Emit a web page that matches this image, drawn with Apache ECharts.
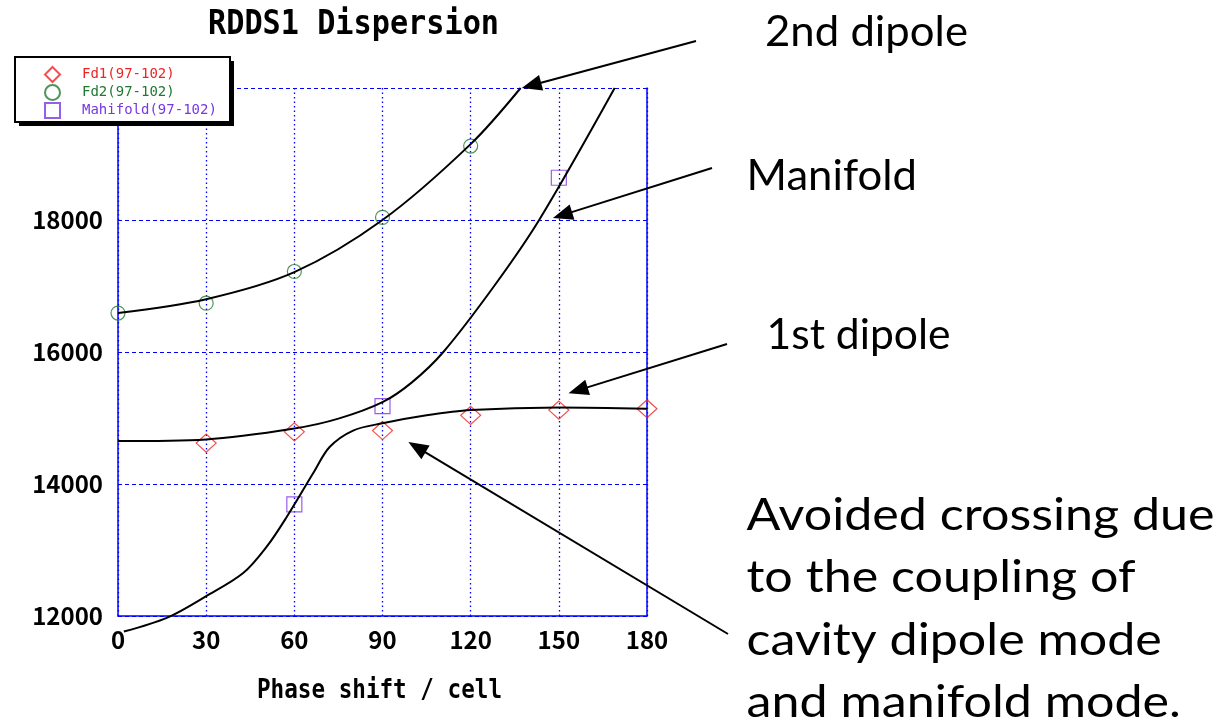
<!DOCTYPE html>
<html>
<head>
<meta charset="utf-8">
<script src="https://cdn.jsdelivr.net/npm/echarts@6/dist/echarts.min.js"></script>
<style>
  html, body { margin: 0; padding: 0; background: #ffffff; }
  #chart { width: 1224px; height: 728px; }
</style>
</head>
<body>
<div id="chart"></div>
<script>
// ---- Measured points: frequency vs. phase shift per cell ----
const fd1Phase = [30, 60, 90, 120, 150, 180];
const fd1Freq  = [14620, 14790, 14810, 15040, 15120, 15140];

const fd2Phase = [0, 30, 60, 90, 120];
const fd2Freq  = [16590, 16740, 17220, 18040, 19120];

const manifoldPhase = [60, 90, 150];
const manifoldFreq  = [13690, 15180, 18640];

// ---- Fitted dispersion curves ----
const dipole2CurvePhase = [0, 30, 60, 90, 120, 137];
const dipole2CurveFreq  = [16590, 16800, 17210, 18000, 19150, 20000];

const manifoldCurvePhase = [0, 30, 60, 75, 90, 100, 110.7, 128, 143.3, 169];
const manifoldCurveFreq  = [14650, 14675, 14840, 14990, 15240, 15540, 16000, 17000, 18000, 20000];

const dipole1CurvePhase = [2, 17, 30, 42.6, 50.6, 57.4, 66.5, 72, 80, 90, 105, 120, 150, 180];
const dipole1CurveFreq  = [11765, 11980, 12300, 12650, 13050, 13500, 14170, 14560, 14810, 14920, 15040, 15120, 15160, 15140];

// ---- Axis settings ----
const phaseTicks = [0, 30, 60, 90, 120, 150, 180];
const freqTicks  = [12000, 14000, 16000, 18000, 20000];

const seriesNames = ['Fd1(97-102)', 'Fd2(97-102)', 'Mahifold(97-102)'];

function pairs(xs, ys) { return xs.map((x, i) => [x, ys[i]]); }

const RED = '#ee2424';
const GREEN = '#1f7a32';
const PURPLE = '#7a36e6';
const BLUE = '#0000ff';

const tickFont = "'Noto Sans CJK JP', 'DejaVu Sans Condensed', sans-serif";
const monoFont = "'DejaVu Sans Mono', 'Liberation Mono', monospace";
const noteFont = "Lato, 'Open Sans', sans-serif";

const chart = echarts.init(document.getElementById('chart'), null, { renderer: 'canvas' });

const curveStyle = { color: '#000', width: 2 };
const curveSmooth = 0.33;

chart.setOption({
  animation: false,
  backgroundColor: '#ffffff',
  grid: { left: 118, right: 577, top: 88, bottom: 112, containLabel: false },
  legend: {
    orient: 'vertical',
    left: 15,
    top: 57,
    z: 6,
    padding: [9, 13, 8, 29],
    itemWidth: 15,
    itemHeight: 15,
    itemGap: 1,
    backgroundColor: 'transparent',
    borderWidth: 0,
    selectedMode: false,
    textStyle: { fontFamily: monoFont, fontSize: 14, padding: [0, 0, 0, 17] },
    data: [
      { name: seriesNames[0], textStyle: { color: RED } },
      { name: seriesNames[1], textStyle: { color: GREEN } },
      { name: seriesNames[2], textStyle: { color: PURPLE } }
    ]
  },
  xAxis: {
    type: 'value',
    min: phaseTicks[0],
    max: phaseTicks[phaseTicks.length - 1],
    interval: phaseTicks[1] - phaseTicks[0],
    axisLine: { show: true, lineStyle: { color: BLUE, width: 1.5 } },
    axisTick: { show: false },
    axisLabel: {
      color: '#000', fontFamily: tickFont, fontWeight: 'bold', fontSize: 24, margin: 12,
      formatter: v => String(v)
    },
    splitLine: { show: true, lineStyle: { color: BLUE, width: 1.3, type: [1.5, 3] } }
  },
  yAxis: [{
    type: 'value',
    min: freqTicks[0],
    max: freqTicks[freqTicks.length - 1],
    interval: freqTicks[1] - freqTicks[0],
    axisLine: { show: true, lineStyle: { color: BLUE, width: 1.5 } },
    axisTick: { show: false },
    axisLabel: {
      color: '#000', fontFamily: tickFont, fontWeight: 'bold', fontSize: 24, margin: 15,
      showMaxLabel: false, formatter: v => String(v)
    },
    splitLine: { show: true, lineStyle: { color: BLUE, width: 1.2, type: [4, 3] } }
  }, {
    type: 'value',
    position: 'right',
    min: freqTicks[0],
    max: freqTicks[freqTicks.length - 1],
    interval: freqTicks[1] - freqTicks[0],
    axisLine: { show: true, lineStyle: { color: BLUE, width: 1.5 } },
    axisTick: { show: false },
    axisLabel: { show: false },
    splitLine: { show: false }
  }],
  series: [
    {
      name: seriesNames[0], type: 'scatter', symbol: 'diamond', symbolSize: [20, 18], z: 3,
      itemStyle: { color: 'rgba(255,255,255,0)', borderColor: RED, borderWidth: 1.2 },
      data: pairs(fd1Phase, fd1Freq)
    },
    {
      name: seriesNames[1], type: 'scatter', symbol: 'circle', symbolSize: 14, z: 3,
      itemStyle: { color: 'rgba(255,255,255,0)', borderColor: GREEN, borderWidth: 1.2 },
      data: pairs(fd2Phase, fd2Freq)
    },
    {
      name: seriesNames[2], type: 'scatter', symbol: 'rect', symbolSize: 15, z: 3,
      itemStyle: { color: 'rgba(255,255,255,0)', borderColor: PURPLE, borderWidth: 1.2 },
      data: pairs(manifoldPhase, manifoldFreq)
    },
    {
      name: '2nd dipole', type: 'line', smooth: curveSmooth, showSymbol: false, z: 4, clip: false,
      lineStyle: curveStyle, data: pairs(dipole2CurvePhase, dipole2CurveFreq)
    },
    {
      name: 'Manifold', type: 'line', smooth: curveSmooth, showSymbol: false, z: 4, clip: false,
      lineStyle: curveStyle, data: pairs(manifoldCurvePhase, manifoldCurveFreq)
    },
    {
      name: '1st dipole', type: 'line', smooth: curveSmooth, showSymbol: false, z: 4, clip: false,
      lineStyle: curveStyle, data: pairs(dipole1CurvePhase, dipole1CurveFreq)
    }
  ]
});

// ---- Text, legend frame and arrows drawn on top of the chart ----
const measureCtx = document.createElement('canvas').getContext('2d');
function textWidth(str, font) { measureCtx.font = font; return measureCtx.measureText(str).width; }

// fits a line of text to a given width, placed by its left edge and baseline
function fittedText(str, left, baseline, size, width, z) {
  const font = size + 'px ' + noteFont;
  return {
    type: 'text', x: left, y: baseline - 0.387 * size,
    scaleX: width / textWidth(str, font), z: z || 20,
    style: { text: str, x: 0, y: 0, fill: '#000', font: font, align: 'left', verticalAlign: 'middle' }
  };
}

const titleSize = 34;
const titleFont = 'bold ' + titleSize + 'px ' + monoFont;
const titleScale = 291 / textWidth('RDDS1 Dispersion', titleFont);
const nameSize = 27;
const nameFont = 'bold ' + nameSize + 'px ' + monoFont;
const nameScale = 245 / textWidth('Phase shift / cell', nameFont);

const paragraph = ['Avoided crossing due', 'to the coupling of', 'cavity dipole mode', 'and manifold mode.'];
const paragraphBaselines = [533, 595, 658, 720];
const paraSize = 45;
const paraScale = 468 / textWidth(paragraph[0], paraSize + 'px ' + noteFont);

// arrows: tail in page pixels, head at a point on the curve (phase, frequency)
const arrows = [
  { tail: [696, 41], head: [137.4, 20000] },
  { tail: [712, 168], head: [148.0, 18030] },
  { tail: [727, 344], head: [153.3, 15375] },
  { tail: [728, 634], head: [98.8, 14635] }
];

const graphics = [
  // legend frame with a hard drop shadow
  { type: 'rect', z: 5, shape: { x: 19, y: 61, width: 215, height: 65 }, style: { fill: '#000' } },
  { type: 'rect', z: 5, shape: { x: 15, y: 57, width: 215, height: 65 },
    style: { fill: '#fff', stroke: '#000', lineWidth: 2 } },
  {
    type: 'text', x: 353.5, y: 36.7 - 0.346 * titleSize, scaleX: titleScale, z: 20,
    style: { text: 'RDDS1 Dispersion', x: 0, y: 0, fill: '#000', font: titleFont,
             align: 'center', verticalAlign: 'middle' }
  },
  {
    type: 'text', x: 379.5, y: 700.5 - 0.346 * nameSize, scaleX: nameScale, z: 20,
    style: { text: 'Phase shift / cell', x: 0, y: 0, fill: '#000', font: nameFont,
             align: 'center', verticalAlign: 'middle' }
  },
  fittedText('2nd dipole', 765, 49, 42, 203),
  fittedText('Manifold', 746.5, 193, 42, 170.5),
  fittedText('1st dipole', 766.5, 352, 42, 184)
];
paragraph.forEach((line, i) => {
  const t = fittedText(line, 746.5, paragraphBaselines[i], paraSize, 1);
  t.scaleX = paraScale;
  graphics.push(t);
});

const headLen = 20, headHalf = 8;
arrows.forEach(a => {
  const tip = chart.convertToPixel({ gridIndex: 0 }, a.head);
  const dx = tip[0] - a.tail[0], dy = tip[1] - a.tail[1];
  const len = Math.hypot(dx, dy);
  const ux = dx / len, uy = dy / len;
  const bx = tip[0] - ux * headLen, by = tip[1] - uy * headLen;
  graphics.push({
    type: 'line', z: 21,
    shape: { x1: a.tail[0], y1: a.tail[1], x2: bx + ux * 2, y2: by + uy * 2 },
    style: { stroke: '#000', lineWidth: 2 }
  });
  graphics.push({
    type: 'polygon', z: 21,
    shape: { points: [tip, [bx - uy * headHalf, by + ux * headHalf], [bx + uy * headHalf, by - ux * headHalf]] },
    style: { fill: '#000' }
  });
});

chart.setOption({ graphic: graphics });
</script>
</body>
</html>
